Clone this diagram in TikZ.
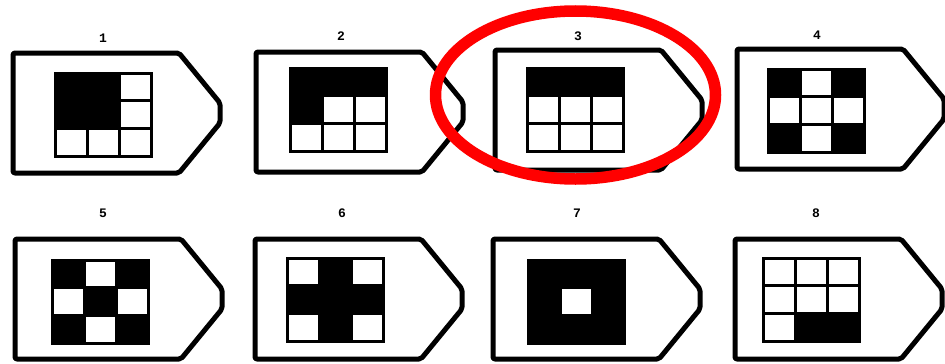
\documentclass[tikz,border=0pt]{standalone}
\usepackage{fontspec}
\setmonofont{Liberation Mono}
\tikzset{
  cardline/.style={line width=5pt, line join=round, rounded corners=2pt},
  gridline/.style={line width=3pt},
  lbl/.style={font=\ttfamily\bfseries\fontsize{13}{13}\selectfont, inner sep=0pt},
  ring/.style={draw=red, line width=11.5pt}
}
% #1 L, #2 T, #3 label x, #4 label y, #5 label, #6 grid L, #7 grid T, #8 white cells r/c
\newcommand{\tagcard}[8]{%
  \draw[cardline] (#1,#2) -- ++(166,0) -- ++(41,50) -- ++(0,20) -- ++(-41,50) -- ++(-166,0) -- cycle;
  \node[lbl] at (#3,#4) {#5};
  \fill[black] (#6,#7) rectangle ++(96,83);
  \draw[gridline] (#6,#7) rectangle ++(96,83);
  \foreach \r/\c in {#8}{%
    \fill[white] ({#6+\c*32+1.5},{#7+\r*27.667+1.5}) rectangle ({#6+(\c+1)*32-1.5},{#7+(\r+1)*27.667-1.5});
  }%
}
\begin{document}
\begin{tikzpicture}[x=1pt,y=-1pt]
  \useasboundingbox[fill=white] (0,0) rectangle (945,364);
  \tagcard{13}{53}{103}{38}{1}{55}{73}{0/2,1/2,2/0,2/1,2/2}
  \tagcard{256}{52}{341}{36}{2}{290}{68}{1/1,1/2,2/0,2/1,2/2}
  \tagcard{495}{50}{578}{36}{3}{527}{68}{1/0,1/1,1/2,2/0,2/1,2/2}
  \tagcard{737}{49}{817}{35}{4}{768}{69}{0/1,1/0,1/1,1/2,2/1}
  \tagcard{15}{239}{103}{213}{5}{52}{260}{0/1,1/0,1/2,2/1}
  \tagcard{255}{239}{342}{213}{6}{287}{258}{0/0,0/2,2/0,2/2}
  \tagcard{493}{239}{577}{213}{7}{528}{260}{1/1}
  \tagcard{735}{239}{816}{213}{8}{763}{258}{0/0,0/1,0/2,1/0,1/1,1/2,2/0}
  \draw[ring] (575.5,95) ellipse [x radius=140, y radius=84];
\end{tikzpicture}
\end{document}
